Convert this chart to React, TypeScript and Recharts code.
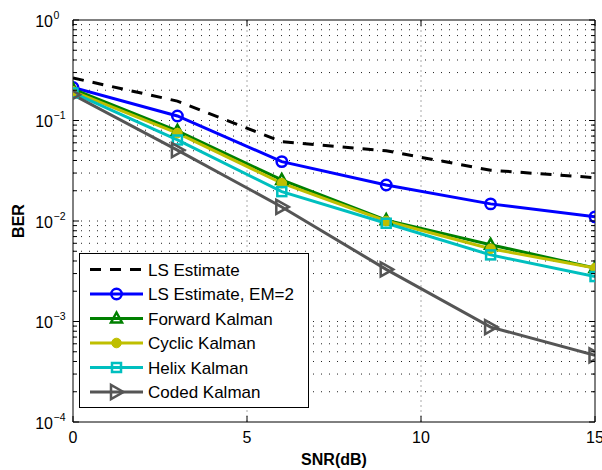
import React from 'react';
import { LineChart, Line, XAxis, YAxis, ReferenceLine, Legend } from 'recharts';

const snr = [0, 3, 6, 9, 12, 15];
const lsEstimate = [0.265, 0.156, 0.0615, 0.05, 0.032, 0.027];
const lsEm2 = [0.213, 0.111, 0.039, 0.0228, 0.0148, 0.011];
const forwardKalman = [0.205, 0.079, 0.0256, 0.0102, 0.0058, 0.0034];
const cyclicKalman = [0.195, 0.075, 0.0238, 0.01, 0.0053, 0.0034];
const helixKalman = [0.188, 0.064, 0.0196, 0.0095, 0.0046, 0.0028];
const codedKalman = [0.18, 0.0508, 0.0138, 0.0033, 0.00088, 0.00046];

const xTicks = [0, 5, 10, 15];
const xGrid = [5, 10];
const decadeTicks = [1e-4, 1e-3, 1e-2, 1e-1, 1];
const minorMultipliers = [2, 3, 4, 5, 6, 7, 8, 9];
const minorTicks: number[] = [];
[1e-4, 1e-3, 1e-2, 1e-1].forEach((d) => minorMultipliers.forEach((m) => minorTicks.push(m * d)));
const allYTicks = [...decadeTicks, ...minorTicks].sort((a, b) => a - b);
const yGrid = allYTicks.filter((v) => v > 1e-4 * 1.0001 && v < 0.9999);

const FONT = 'Liberation Sans, Arial, Helvetica, sans-serif';

type Series = { key: string; name: string; color: string; dash?: string; marker?: string; values: number[] };
const series: Series[] = [
  { key: 'ls', name: 'LS Estimate', color: '#000000', dash: '11 9', values: lsEstimate },
  { key: 'em2', name: 'LS Estimate, EM=2', color: '#0000FF', marker: 'circle', values: lsEm2 },
  { key: 'fwd', name: 'Forward Kalman', color: '#008000', marker: 'triUp', values: forwardKalman },
  { key: 'cyc', name: 'Cyclic Kalman', color: '#BFBF00', marker: 'dot', values: cyclicKalman },
  { key: 'hel', name: 'Helix Kalman', color: '#00BFBF', marker: 'square', values: helixKalman },
  { key: 'cod', name: 'Coded Kalman', color: '#555555', marker: 'triRight', values: codedKalman },
];

function Marker({ kind, cx, cy, color }: { kind?: string; cx: number; cy: number; color: string }) {
  if (cx == null || cy == null || isNaN(cx) || isNaN(cy)) return <g />;
  switch (kind) {
    case 'circle':
      return <circle cx={cx} cy={cy} r={5.2} fill="none" stroke={color} strokeWidth={2.5} />;
    case 'dot':
      return <circle cx={cx} cy={cy} r={4.8} fill={color} stroke={color} strokeWidth={1} />;
    case 'triUp':
      return (
        <polygon
          points={`${cx},${cy - 6} ${cx - 5.5},${cy + 4} ${cx + 5.5},${cy + 4}`}
          fill="none"
          stroke={color}
          strokeWidth={2.5}
          strokeLinejoin="miter"
        />
      );
    case 'square':
      return <rect x={cx - 4.5} y={cy - 4.5} width={9} height={9} fill="none" stroke={color} strokeWidth={2.5} />;
    case 'triRight':
      return (
        <polygon
          points={`${cx + 7},${cy} ${cx - 5.5},${cy - 7} ${cx - 5.5},${cy + 7}`}
          fill="none"
          stroke={color}
          strokeWidth={2.5}
        />
      );
    default:
      return <g />;
  }
}

const isDecade = (v: number) => decadeTicks.some((d) => Math.abs(Math.log10(v) - Math.log10(d)) < 1e-6);

const LeftTick = (props: any) => {
  const { x, y, payload } = props;
  const v = payload.value;
  const major = isDecade(v);
  const exp = Math.round(Math.log10(v));
  return (
    <g>
      <line x1={x} x2={x + (major ? 6 : 4)} y1={y} y2={y} stroke="#000" strokeWidth={1} />
      {major && (
        <g fontFamily={FONT} fill="#000">
          <text x={x - 20} y={y + 6.5} textAnchor="end" fontSize={16}>
            10
          </text>
          <text x={x - 19.5} y={y - 1.5} textAnchor="start" fontSize={10.5}>
            {exp === 0 ? '0' : '\u2212' + Math.abs(exp)}
          </text>
        </g>
      )}
    </g>
  );
};

const RightTick = (props: any) => {
  const { x, y, payload } = props;
  const major = isDecade(payload.value);
  return <line x1={x} x2={x - (major ? 6 : 4)} y1={y} y2={y} stroke="#000" strokeWidth={1} />;
};

const BottomTick = (props: any) => {
  const { x, y, payload } = props;
  return (
    <g>
      <line x1={x} x2={x} y1={y} y2={y - 6} stroke="#000" strokeWidth={1} />
      <text x={x} y={y + 21} textAnchor="middle" fontSize={16} fontFamily={FONT} fill="#000">
        {payload.value}
      </text>
    </g>
  );
};

const TopTick = (props: any) => {
  const { x, y } = props;
  return <line x1={x} x2={x} y1={y} y2={y + 6} stroke="#000" strokeWidth={1} />;
};

const LegendBox = () => (
  <svg width={230} height={155} style={{ display: 'block' }}>
    <rect x={0.5} y={0.5} width={229} height={154} fill="#fff" stroke="#000" strokeWidth={1} />
    {series.map((s, i) => {
      const y = 16.5 + i * 24.5;
      return (
        <g key={s.key}>
          <line x1={11} x2={64} y1={y} y2={y} stroke={s.color} strokeWidth={3} strokeDasharray={s.dash} />
          {s.marker && <Marker kind={s.marker} cx={37.5} cy={y} color={s.color} />}
          <text x={69} y={y + 6} fontSize={17} fontFamily={FONT} fill="#000">
            {s.name}
          </text>
        </g>
      );
    })}
  </svg>
);

export default function App() {
  const data = snr.map((x, i) => {
    const row: any = { snr: x };
    series.forEach((s) => {
      row[s.key] = s.values[i];
    });
    return row;
  });

  return (
    <div style={{ position: 'absolute', left: 0, top: 0, width: 602, height: 470, background: '#fff' }}>
      <LineChart width={602} height={470} data={data} margin={{ top: 10, right: 1, bottom: 0, left: 0 }}>
        <XAxis
          dataKey="snr"
          type="number"
          domain={[0, 15]}
          ticks={xTicks}
          interval={0}
          height={48}
          tickSize={0}
          tickMargin={0}
          axisLine={{ stroke: '#000', strokeWidth: 1 }}
          tickLine={false}
          tick={BottomTick}
          allowDataOverflow
          label={{
            value: 'SNR(dB)',
            position: 'insideBottom',
            offset: 5,
            fill: '#000',
            fontSize: 16,
            fontWeight: 'bold',
            fontFamily: FONT,
          }}
        />
        <XAxis
          xAxisId="top"
          dataKey="snr"
          orientation="top"
          type="number"
          domain={[0, 15]}
          ticks={xTicks}
          interval={0}
          height={10}
          tickSize={0}
          tickMargin={0}
          axisLine={{ stroke: '#000', strokeWidth: 1 }}
          tickLine={false}
          tick={TopTick}
          allowDataOverflow
        />
        <YAxis
          type="number"
          scale="log"
          domain={[1e-4, 1]}
          ticks={allYTicks}
          interval={0}
          width={73}
          tickSize={0}
          tickMargin={0}
          axisLine={{ stroke: '#000', strokeWidth: 1 }}
          tickLine={false}
          tick={LeftTick}
          allowDataOverflow
          label={(props: any) => {
            const vb = props.viewBox || { x: 0, y: 20, width: 73, height: 402 };
            const cx = vb.x + 24;
            const cy = vb.y + vb.height / 2;
            return (
              <text
                x={cx}
                y={cy}
                transform={`rotate(-90, ${cx}, ${cy})`}
                textAnchor="middle"
                fontSize={16}
                fontWeight="bold"
                fontFamily={FONT}
                fill="#000"
              >
                BER
              </text>
            );
          }}
        />
        <YAxis
          yAxisId="right"
          orientation="right"
          type="number"
          scale="log"
          domain={[1e-4, 1]}
          ticks={allYTicks}
          interval={0}
          width={6}
          tickSize={0}
          tickMargin={0}
          axisLine={{ stroke: '#000', strokeWidth: 1 }}
          tickLine={false}
          tick={RightTick}
          allowDataOverflow
        />
        {yGrid.map((v) => (
          <ReferenceLine key={'gy' + v} y={v} stroke="#222" strokeWidth={1} strokeDasharray="1 7" />
        ))}
        {xGrid.map((v) => (
          <ReferenceLine key={'gx' + v} x={v} stroke="#aaa" strokeWidth={1} strokeDasharray="2 3" />
        ))}
        {series.map((s) => (
          <Line
            key={s.key}
            dataKey={s.key}
            name={s.name}
            type="linear"
            stroke={s.color}
            strokeWidth={3}
            strokeDasharray={s.dash}
            isAnimationActive={false}
            dot={
              s.marker
                ? (p: any) => <Marker key={s.key + p.index} kind={s.marker} cx={p.cx} cy={p.cy} color={s.color} />
                : false
            }
            activeDot={false}
          />
        ))}
        <Legend
          layout="vertical"
          align="center"
          verticalAlign="middle"
          content={LegendBox}
          wrapperStyle={{ left: 79, top: 253, width: 230, height: 155 }}
        />
      </LineChart>
    </div>
  );
}
